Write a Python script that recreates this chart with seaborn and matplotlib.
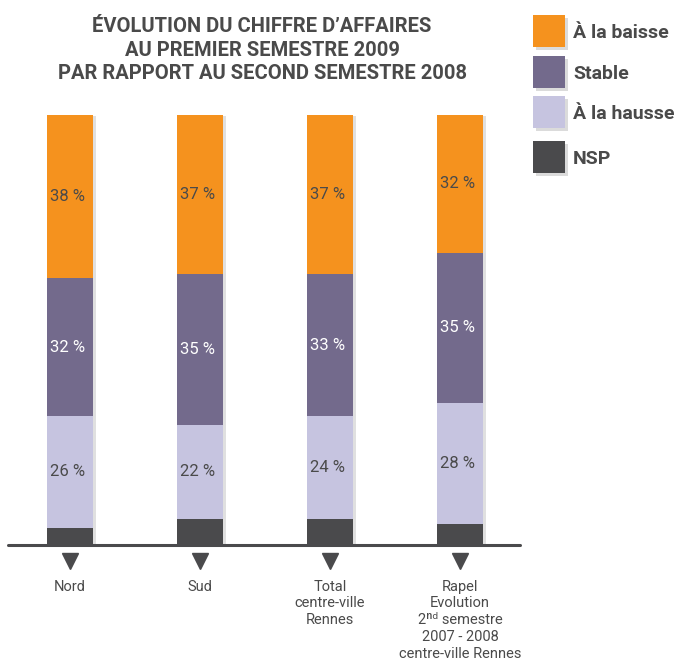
import matplotlib
matplotlib.use("Agg")
import matplotlib.pyplot as plt
import matplotlib.patheffects as pe
from matplotlib.patches import Rectangle
import seaborn as sns
import pandas as pd
import numpy as np

categories = ["Nord", "Sud", "Total\ncentre-ville\nRennes",
              "Rapel\nEvolution\n2ⁿᵈ semestre\n2007 - 2008\ncentre-ville Rennes"]
nsp = [4, 6, 6, 5]
hausse = [26, 22, 24, 28]
stable = [32, 35, 33, 35]
baisse = [38, 37, 37, 32]

colors = {"À la baisse": "#F5921E", "Stable": "#736A8C",
          "À la hausse": "#C6C4E0", "NSP": "#4A4A4C"}
label_colors = {"À la baisse": "#4A4A4A", "Stable": "#FFFFFF",
                "À la hausse": "#4A4A4A"}

sns.set_style("white")
FONT = ["Roboto", "DejaVu Sans"]
plt.rcParams["font.family"] = FONT

W, H = 681, 668
fig = plt.figure(figsize=(W / 100, H / 100), dpi=100)

def fx(x):
    return x / W

def fy(y):
    return 1 - y / H

# axes spanning the baseline (pixel 8..520 wide, baseline at y=545)
ax_left, ax_right, ax_top, ax_bot = 8, 520, 100, 545
ax = fig.add_axes([fx(ax_left), fy(ax_bot), fx(ax_right - ax_left), (ax_bot - ax_top) / H])
px_per_unit_x = 130.0
px_per_unit_y = 4.3
x0 = 70

df = pd.DataFrame({
    "cat": categories,
    "NSP": nsp,
    "À la hausse": hausse,
    "Stable": stable,
    "À la baisse": baisse,
})
df["c_nsp"] = df["NSP"]
df["c_hausse"] = df["c_nsp"] + df["À la hausse"]
df["c_stable"] = df["c_hausse"] + df["Stable"]
df["c_baisse"] = df["c_stable"] + df["À la baisse"]

bar_w = 46 / px_per_unit_x
shadow = [pe.SimplePatchShadow(offset=(2, -1), shadow_rgbFace="#999999", alpha=0.3), pe.Normal()]
for col, name in [("c_baisse", "À la baisse"), ("c_stable", "Stable"),
                  ("c_hausse", "À la hausse"), ("c_nsp", "NSP")]:
    sns.barplot(data=df, x="cat", y=col, color=colors[name], saturation=1,
                width=bar_w, ax=ax, order=categories, linewidth=0)

for i, p in enumerate(ax.patches):
    if i < len(categories):
        p.set_path_effects(shadow)

ax.set_xlim((ax_left - x0) / px_per_unit_x, (ax_right - x0) / px_per_unit_x)
ax.set_ylim(0, (ax_bot - ax_top) / px_per_unit_y)

# segment labels
for i in range(len(categories)):
    bottoms = {"À la hausse": df["c_nsp"][i], "Stable": df["c_hausse"][i],
               "À la baisse": df["c_stable"][i]}
    vals = {"À la hausse": hausse[i], "Stable": stable[i], "À la baisse": baisse[i]}
    for name in ["À la baisse", "Stable", "À la hausse"]:
        ymid = bottoms[name] + vals[name] / 2
        ax.text(i - bar_w / 2 + 3 / px_per_unit_x, ymid, f"{vals[name]} %",
                ha="left", va="center", fontsize=12, color=label_colors[name])

# baseline
ax.axhline(0, color="#4A4A4C", lw=2.2, zorder=5, clip_on=False)

# triangle markers below each bar
ax.plot(range(len(categories)), [-16 / px_per_unit_y] * len(categories),
        marker="v", ls="none", ms=11, color="#4A4A4C", clip_on=False)

ax.set_xlabel("")
ax.set_ylabel("")
ax.set_yticks([])
ax.set_xticks(range(len(categories)))
ax.set_xticklabels(categories, fontsize=10.5, color="#4A4A4A", linespacing=1.25, va="top")
ax.tick_params(axis="x", length=0, pad=25)
for s in ax.spines.values():
    s.set_visible(False)

# title
fig.text(fx(262), fy(50), "ÉVOLUTION DU CHIFFRE D’AFFAIRES\nAU PREMIER SEMESTRE 2009\nPAR RAPPORT AU SECOND SEMESTRE 2008",
         ha="center", va="center", fontsize=14.5, fontweight="bold", color="#4A4A4A",
         linespacing=1.33)

# legend
legend_rows = [(15, "À la baisse"), (56, "Stable"), (96, "À la hausse"), (141, "NSP")]
for ytop, name in legend_rows:
    r = Rectangle((fx(533), fy(ytop + 32)), fx(32), 32 / H, transform=fig.transFigure,
                  facecolor=colors[name], edgecolor="none",
                  path_effects=[pe.SimplePatchShadow(offset=(2, -2), shadow_rgbFace="#999999", alpha=0.35), pe.Normal()])
    fig.add_artist(r)
    fig.text(fx(573), fy(ytop + 18), name, ha="left", va="center", fontsize=14,
             fontweight="bold", color="#4A4A4A")

fig.savefig("out.png", dpi=100)
